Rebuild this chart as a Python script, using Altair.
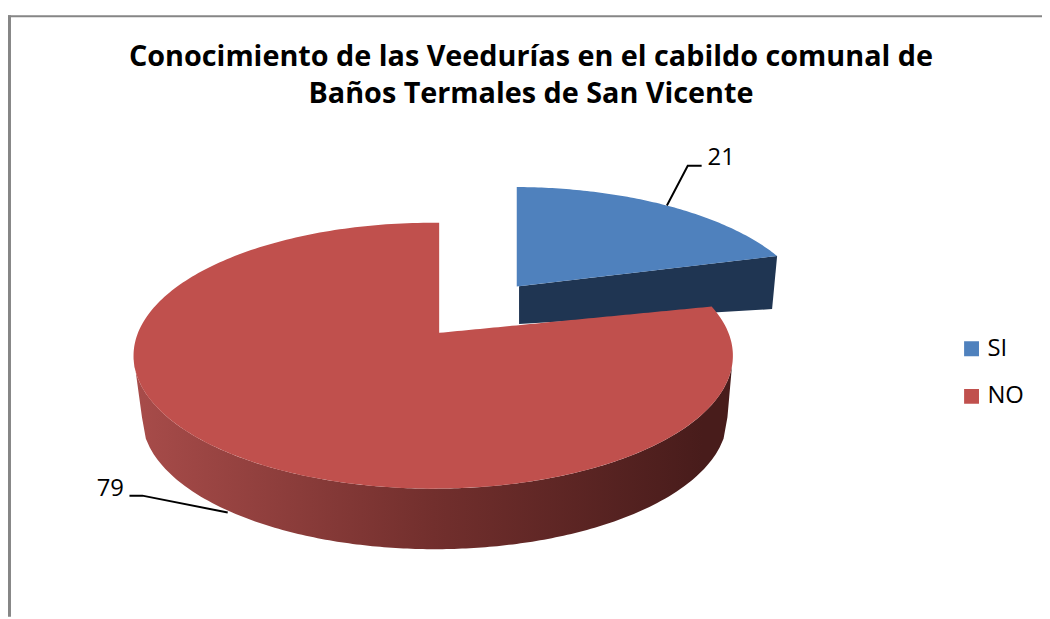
import math
import altair as alt
import pandas as pd

# --- chart values ---
CATEGORIES = ["SI", "NO"]
VALUES = [21, 79]
TITLE_LINES = ["Conocimiento de las Veedurías en el cabildo comunal de",
               "Baños Termales de San Vicente"]

# --- drawing parameters (3-D projection of the pie, in page pixels) ---
W, H = 1042, 611
BLUE, RED = "#4F81BD", "#C0504D"
NAVY = "#1F3552"
BORDER = "#868686"
FONT = "Open Sans"
SI_TOP = dict(cx=517, cy=318, a=302, b=132)
SI_APEX = (523, 286)
SI_FLOOR = ((524, 324), (778, 309))
NO_TOP = dict(cx=436.5, cy=356, a=302, b=134)
NO_BOT = dict(cx=438, cy=418, a=295, b=133)
NO_NOTCH_X = 442.5
NO_APEX_Y = 333
SI_FORESHORTEN = 0.817      # perspective squeeze of the exploded slice's sweep
NO_START_SHIFT = -7.3       # perspective shift of the red slice's first edge
NO_LABEL_SHIFT = 7.2
N = 90


def pt(e, deg):
    r = math.radians(deg)
    return e["cx"] + e["a"] * math.sin(r), e["cy"] - e["b"] * math.cos(r)


def steps(a, b, n=N):
    return [a + (b - a) * i / n for i in range(n + 1)]


def lower(e, x):
    t = max(0, 1 - ((x - e["cx"]) / e["a"]) ** 2)
    return e["cy"] + e["b"] * math.sqrt(t)


def upper(e, x):
    t = max(0, 1 - ((x - e["cx"]) / e["a"]) ** 2)
    return e["cy"] - e["b"] * math.sqrt(t)


def lerp(p, q, x):
    return p[1] + (q[1] - p[1]) * (x - p[0]) / (q[0] - p[0])


sweeps = [v / sum(VALUES) * 360 for v in VALUES]

# blue slice
si_end = sweeps[0] * SI_FORESHORTEN
si_arc = [pt(SI_TOP, d) for d in steps(0.7, si_end)]
ex, ey = si_arc[-1]
ax, ay = SI_APEX

si_top = pd.DataFrame([
    dict(x=x, y=y, yb=lerp(SI_APEX, (ex, ey), x), c=CATEGORIES[0])
    for x, y in si_arc])
f0, f1 = SI_FLOOR
si_wall = pd.DataFrame([
    dict(x=ax, y=ay, yb=f0[1]),
    dict(x=f1[0], y=lerp(SI_APEX, (ex, ey), f1[0]), yb=f1[1]),
    dict(x=ex, y=ey, yb=ey),
])

# red slice: upper edge runs left extreme -> top -> notch apex -> first edge -> right extreme
no_start = sweeps[0] + NO_START_SHIFT
rows = []
left_x = pt(NO_TOP, 270)[0]
for k in steps(0, 1):
    # cosine spacing keeps the ellipse's steep ends smooth
    x = left_x + (NO_NOTCH_X - left_x) * (1 - math.cos(k * math.pi / 2))
    rows.append((x, upper(NO_TOP, x)))
apex = (NO_NOTCH_X + 0.01, NO_APEX_Y)
edge = pt(NO_TOP, no_start)
for k in steps(0, 1, 60):
    x = apex[0] + (edge[0] - apex[0]) * k
    rows.append((x, lerp(apex, edge, x)))
for d in steps(no_start, 90, 24)[1:]:
    rows.append(pt(NO_TOP, d))
no_top = pd.DataFrame([
    dict(x=x, y=y, yb=lower(NO_TOP, x), c=CATEGORIES[1]) for x, y in rows])

# red wall
left_t, right_t = pt(NO_TOP, 270), pt(NO_TOP, 90)
left_b, right_b = pt(NO_BOT, 270), pt(NO_BOT, 90)
wall = []
for k in steps(0, 1, 6):
    x = left_t[0] + (left_b[0] - left_t[0]) * k
    wall.append(dict(x=x, y=lower(NO_TOP, x), yb=left_t[1] + (left_b[1] - left_t[1]) * k))
for k in steps(0, 1, 150):
    x = left_b[0] + (right_b[0] - left_b[0]) * k
    wall.append(dict(x=x, y=lower(NO_TOP, x), yb=lower(NO_BOT, x)))
for k in steps(1, 0, 6):
    x = right_t[0] + (right_b[0] - right_t[0]) * k
    wall.append(dict(x=x, y=lower(NO_TOP, x), yb=right_t[1] + (right_b[1] - right_t[1]) * k))
no_wall = pd.DataFrame(wall)

# leaders and labels, anchored at each slice's mid angle
si_anchor = pt(SI_TOP, sweeps[0] / 2 * SI_FORESHORTEN)
no_anchor = pt(NO_BOT, sweeps[0] + sweeps[1] / 2 + NO_LABEL_SHIFT)
lead = pd.DataFrame([
    dict(s="a", i=0, x=si_anchor[0], y=si_anchor[1]),
    dict(s="a", i=1, x=si_anchor[0] + 21, y=si_anchor[1] - 40),
    dict(s="a", i=2, x=si_anchor[0] + 35, y=si_anchor[1] - 40),
    dict(s="b", i=0, x=no_anchor[0], y=no_anchor[1] + 2),
    dict(s="b", i=1, x=no_anchor[0] - 86, y=no_anchor[1] - 15),
    dict(s="b", i=2, x=no_anchor[0] - 99, y=no_anchor[1] - 15),
])
labels = pd.DataFrame([
    dict(t=str(VALUES[0]), x=si_anchor[0] + 41, y=si_anchor[1] - 48),
    dict(t=str(VALUES[1]), x=no_anchor[0] - 132, y=no_anchor[1] - 22),
])

xs = alt.Scale(domain=[8, 8 + W], nice=False, zero=False)
ys = alt.Scale(domain=[8 + H, 8], nice=False, zero=False)
X = alt.X("x:Q", scale=xs, axis=None)
Y = alt.Y("y:Q", scale=ys, axis=None)
Y2 = alt.Y2("yb:Q")
color = alt.Color(
    "c:N",
    scale=alt.Scale(domain=CATEGORIES, range=[BLUE, RED]),
    legend=alt.Legend(
        title=None, orient="none", legendX=959, legendY=329,
        symbolType="square", symbolSize=225, symbolStrokeWidth=0, symbolOpacity=1,
        labelFont=FONT, labelFontSize=24, labelColor="#000000",
        labelOffset=4, rowPadding=24, padding=0, clipHeight=24,
    ),
)

gradient = alt.LinearGradient(
    gradient="linear", x1=0, x2=1, y1=0, y2=0,
    stops=[alt.GradientStop(color="#A84C4A", offset=0),
           alt.GradientStop(color="#722F2D", offset=0.5),
           alt.GradientStop(color="#481C1B", offset=0.95),
           alt.GradientStop(color="#481C1B", offset=1)],
)

layers = [
    alt.Chart(si_wall).mark_area(color=NAVY).encode(x=X, y=Y, y2=Y2),
    alt.Chart(si_top).mark_area().encode(x=X, y=Y, y2=Y2, color=color),
    alt.Chart(no_wall).mark_area(color=gradient).encode(x=X, y=Y, y2=Y2),
    alt.Chart(no_top).mark_area().encode(x=X, y=Y, y2=Y2, color=color),
    alt.Chart(lead).mark_line(color="#000000", strokeWidth=2).encode(
        x=X, y=Y, detail="s:N", order=alt.Order("i:Q")),
    alt.Chart(labels).mark_text(font=FONT, fontSize=24, color="#000000", align="left", baseline="middle")
    .encode(x=X, y=Y, text="t:N"),
    alt.Chart(pd.DataFrame({"x": [9.5]})).mark_rule(color=BORDER, strokeWidth=3).encode(
        x=X, y=alt.value(5), y2=alt.value(H)),
    alt.Chart(pd.DataFrame({"y": [14]})).mark_rule(color=BORDER, strokeWidth=2).encode(
        y=Y, x=alt.value(0), x2=alt.value(W)),
]

chart = alt.layer(*layers).properties(
    width=W, height=H, padding=0,
    autosize=alt.AutoSizeParams(type="none"),
    title=alt.TitleParams(
        text=TITLE_LINES, font=FONT, fontSize=29, fontWeight="bold", color="#000000",
        anchor="start", align="center", lineHeight=37, baseline="top",
        orient="top", dx=527, dy=99, offset=0, frame="group",
    ),
).configure_view(stroke=None)

chart.save("out.html", embed_options={"renderer": "svg", "actions": False})
